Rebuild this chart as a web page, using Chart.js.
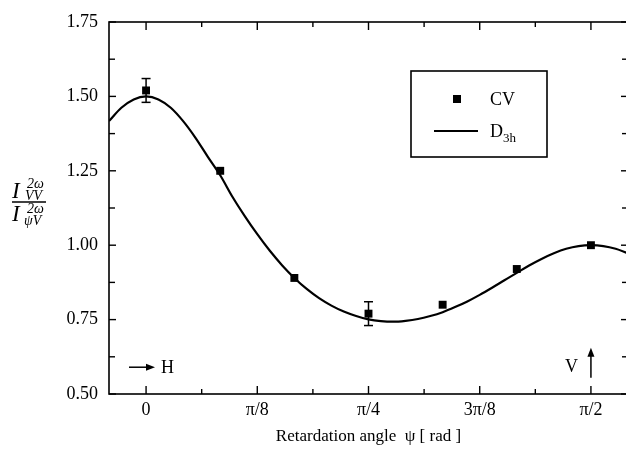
<!DOCTYPE html>
<html>
<head>
<meta charset="utf-8">
<title>SHG intensity ratio vs retardation angle</title>
<script src="https://cdn.jsdelivr.net/npm/chart.js@4/dist/chart.umd.min.js"></script>
<style>
    html, body { margin: 0; padding: 0; background: #fff; overflow: hidden; }
    #wrap { width: 634px; height: 460px; }
</style>
</head>
<body>
<div id="wrap"><canvas id="ratioChart" width="634" height="460"></canvas></div>
<script>
// Retardation angle in degrees (90 deg = pi/2)
const cvAngles = [0, 15, 30, 45, 60, 75, 90];
const cvRatio = [1.52, 1.25, 0.89, 0.77, 0.80, 0.92, 1.00];
const cvError = [0.04, 0, 0, 0.04, 0, 0, 0];

// D3h fit curve
const fitAngles = [-7.5, -5, -2.5, 0, 2.5, 5, 7.5, 10, 12.5, 15, 17.5, 20, 22.5, 25, 27.5, 30,
    32.5, 35, 37.5, 40, 42.5, 45, 47.5, 50, 52.5, 55, 57.5, 60, 62.5, 65, 67.5, 70,
    72.5, 75, 77.5, 80, 82.5, 85, 87.5, 90, 92.5, 95, 97.5];
const fitRatio = [1.417, 1.462, 1.490, 1.500, 1.490, 1.462, 1.417, 1.361, 1.297, 1.235, 1.162, 1.097,
    1.037, 0.982, 0.933, 0.890, 0.853, 0.822, 0.797, 0.777, 0.762, 0.751, 0.745, 0.743,
    0.746, 0.752, 0.762, 0.775, 0.792, 0.811, 0.833, 0.857, 0.882, 0.907, 0.932, 0.954,
    0.973, 0.988, 0.997, 1.000, 0.997, 0.988, 0.973];

// Axis ticks
const xTicks = [0, 11.25, 22.5, 33.75, 45, 56.25, 67.5, 78.75, 90];
const xTickLabels = { 0: '0', 22.5: 'π/8', 45: 'π/4', 67.5: '3π/8', 90: 'π/2' };
const yTicks = [0.5, 0.625, 0.75, 0.875, 1.0, 1.125, 1.25, 1.375, 1.5, 1.625, 1.75];

const SERIF = "'Liberation Serif', 'Times New Roman', serif";

Chart.defaults.color = '#000';
Chart.defaults.font.family = SERIF;

function line(ctx, x1, y1, x2, y2) {
    ctx.beginPath();
    ctx.moveTo(x1, y1);
    ctx.lineTo(x2, y2);
    ctx.stroke();
}

function arrowHead(ctx, x, y, dx, dy) {
    // filled head pointing along (dx, dy)
    const len = 9, half = 3.5;
    const px = -dy, py = dx;
    ctx.beginPath();
    ctx.moveTo(x, y);
    ctx.lineTo(x - dx * len + px * half, y - dy * len + py * half);
    ctx.lineTo(x - dx * len - px * half, y - dy * len - py * half);
    ctx.closePath();
    ctx.fill();
}

// Frame, inward ticks, error bars, legend and labels
const decorations = {
    id: 'decorations',
    afterDatasetsDraw(chart) {
        const { ctx, scales: { x, y } } = chart;
        ctx.save();
        ctx.strokeStyle = '#000';
        ctx.lineWidth = 1.5;
        cvAngles.forEach((a, i) => {
            if (!cvError[i]) return;
            const px = x.getPixelForValue(a);
            const top = y.getPixelForValue(cvRatio[i] + cvError[i]);
            const bot = y.getPixelForValue(cvRatio[i] - cvError[i]);
            line(ctx, px, top, px, bot);
            line(ctx, px - 4.5, top, px + 4.5, top);
            line(ctx, px - 4.5, bot, px + 4.5, bot);
        });
        ctx.restore();
    },
    afterDraw(chart) {
        const { ctx, chartArea: area, scales: { x, y } } = chart;
        ctx.save();
        ctx.strokeStyle = '#000';
        ctx.fillStyle = '#000';

        // box around the plot
        ctx.lineWidth = 1.6;
        ctx.strokeRect(area.left, area.top, area.right - area.left, area.bottom - area.top);

        // ticks pointing inward on all four sides
        ctx.lineWidth = 1.4;
        xTicks.forEach(v => {
            const px = x.getPixelForValue(v);
            const len = xTickLabels[v] !== undefined ? 8 : 5;
            line(ctx, px, area.bottom, px, area.bottom - len);
            line(ctx, px, area.top, px, area.top + len);
        });
        yTicks.forEach(v => {
            const py = y.getPixelForValue(v);
            const len = Math.abs(v * 4 - Math.round(v * 4)) < 1e-6 ? 7 : 6;
            line(ctx, area.left, py, area.left + len, py);
            line(ctx, area.right, py, area.right - len, py);
        });

        // legend
        const lx = area.left + 302, ly = area.top + 49;
        ctx.lineWidth = 1.6;
        ctx.strokeRect(lx, ly, 136, 86);
        ctx.fillRect(lx + 42, ly + 24, 8, 8);
        ctx.lineWidth = 2;
        line(ctx, lx + 23, ly + 60, lx + 67, ly + 60);
        ctx.font = `18px ${SERIF}`;
        ctx.textBaseline = 'alphabetic';
        ctx.textAlign = 'left';
        ctx.fillText('CV', lx + 79, ly + 34);
        ctx.fillText('D', lx + 79, ly + 66);
        ctx.font = `13px ${SERIF}`;
        ctx.fillText('3h', lx + 92, ly + 71);

        // polarization markers: H at the left, V at pi/2
        ctx.lineWidth = 1.5;
        const hy = y.getPixelForValue(0.59);
        const hx0 = area.left + 20, hx1 = area.left + 46;
        line(ctx, hx0, hy, hx1 - 4, hy);
        arrowHead(ctx, hx1, hy, 1, 0);
        ctx.font = `18px ${SERIF}`;
        ctx.textBaseline = 'middle';
        ctx.fillText('H', hx1 + 6, hy + 1);

        const vx = x.getPixelForValue(90);
        const vy0 = y.getPixelForValue(0.555), vy1 = y.getPixelForValue(0.655);
        line(ctx, vx, vy0, vx, vy1 + 4);
        arrowHead(ctx, vx, vy1, 0, -1);
        ctx.textAlign = 'right';
        ctx.fillText('V', vx - 13, hy);

        // y axis title: I_VV / I_psiV (second harmonic)
        ctx.textAlign = 'left';
        ctx.textBaseline = 'alphabetic';
        const fx = 12, fy = 202;
        ctx.lineWidth = 1.3;
        line(ctx, fx, fy, fx + 34, fy);
        ctx.font = `italic 23px ${SERIF}`;
        ctx.fillText('I', fx, fy - 4);
        ctx.fillText('I', fx, fy + 19);
        ctx.font = `italic 14px ${SERIF}`;
        ctx.fillText('2ω', fx + 15, fy - 14);
        ctx.fillText('VV', fx + 13, fy - 2);
        ctx.fillText('2ω', fx + 15, fy + 11);
        ctx.fillText('ψV', fx + 12, fy + 23);

        ctx.restore();
    }
};

new Chart(document.getElementById('ratioChart'), {
    type: 'scatter',
    data: {
        datasets: [
            {
                label: 'D3h',
                data: fitAngles.map((a, i) => ({ x: a, y: fitRatio[i] })),
                showLine: true,
                borderColor: '#000',
                borderWidth: 2.2,
                pointRadius: 0,
                cubicInterpolationMode: 'monotone',
                order: 2
            },
            {
                label: 'CV',
                data: cvAngles.map((a, i) => ({ x: a, y: cvRatio[i] })),
                pointStyle: 'rect',
                pointRadius: 5.6,
                backgroundColor: '#000',
                borderColor: '#000',
                borderWidth: 0,
                order: 1
            }
        ]
    },
    options: {
        responsive: false,
        animation: false,
        devicePixelRatio: 1,
        layout: { padding: { left: 0, top: 22, right: 6, bottom: 0 } },
        plugins: {
            legend: { display: false },
            tooltip: { enabled: false }
        },
        scales: {
            x: {
                type: 'linear',
                min: -7.5,
                max: 97.5,
                afterBuildTicks: scale => { scale.ticks = xTicks.map(v => ({ value: v })); },
                afterFit: scale => { scale.height = 66; },
                grid: { display: false, drawTicks: false },
                border: { display: false },
                ticks: {
                    padding: 5,
                    maxRotation: 0,
                    autoSkip: false,
                    font: { size: 18, family: SERIF },
                    callback: v => xTickLabels[v] !== undefined ? xTickLabels[v] : ''
                },
                title: {
                    display: true,
                    text: 'Retardation angle  ψ [ rad ]',
                    font: { size: 17, family: SERIF },
                    padding: { top: 0, bottom: 13 }
                }
            },
            y: {
                min: 0.5,
                max: 1.75,
                afterBuildTicks: scale => { scale.ticks = yTicks.map(v => ({ value: v })); },
                afterFit: scale => { scale.width = 109; },
                grid: { display: false, drawTicks: false },
                border: { display: false },
                ticks: {
                    padding: 11,
                    autoSkip: false,
                    font: { size: 18, family: SERIF },
                    callback: v => Math.abs(v * 4 - Math.round(v * 4)) < 1e-6 ? v.toFixed(2) : ''
                }
            }
        }
    },
    plugins: [decorations]
});
</script>
</body>
</html>
